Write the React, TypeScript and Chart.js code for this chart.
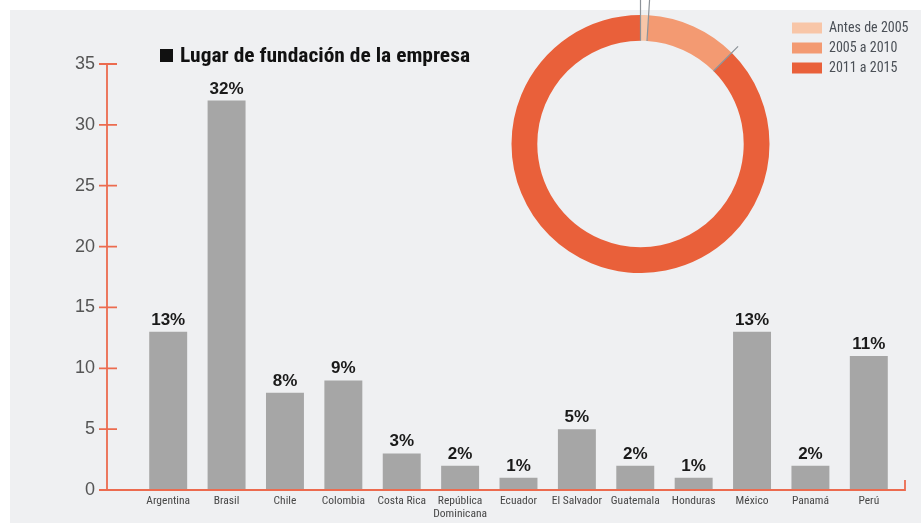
import { useEffect, useRef } from 'react';
import { Chart, registerables } from 'chart.js';

Chart.register(...registerables);

// ---- data ----
const countries: (string | string[])[] = [
  'Argentina', 'Brasil', 'Chile', 'Colombia', 'Costa Rica', ['República', 'Dominicana'],
  'Ecuador', 'El Salvador', 'Guatemala', 'Honduras', 'México', 'Panamá', 'Perú',
];
const companies = [13, 32, 8, 9, 3, 2, 1, 5, 2, 1, 13, 2, 11];
const yMin = 0;
const yMax = 35;
const yStep = 5;

const periods = ['Antes de 2005', '2005 a 2010', '2011 a 2015'];
const periodShares = [1, 11.5, 87.5];

const titleText = 'Lugar de fundación de la empresa';

// ---- styles ----
const COND = '"Roboto Condensed", "DejaVu Sans Condensed", "Liberation Sans", sans-serif';
const SANS = '"Liberation Sans", Arial, sans-serif';
const AXIS = '#ec6b4f';
const BAR = '#a6a6a6';
const periodColors = ['#f8c6a8', '#f39a72', '#e9603a'];

const axesPlugin = {
  id: 'customAxes',
  afterDatasetsDraw(chart: any) {
    const { ctx, chartArea } = chart;
    const y = chart.scales.y;
    const axisX = chartArea.left - 32;
    const y0 = y.getPixelForValue(yMin);
    const yTop = y.getPixelForValue(yMax);
    ctx.save();
    ctx.strokeStyle = AXIS;
    ctx.lineWidth = 1.8;
    ctx.beginPath();
    ctx.moveTo(axisX, yTop);
    ctx.lineTo(axisX, y0);
    y.ticks.forEach((t: any) => {
      const py = y.getPixelForValue(t.value);
      ctx.moveTo(axisX - 8, py);
      ctx.lineTo(t.value === yMin ? axisX : axisX + 10, py);
    });
    ctx.moveTo(axisX, y0);
    ctx.lineTo(chartArea.right + 7, y0);
    ctx.lineTo(chartArea.right + 7, y0 - 10);
    ctx.stroke();
    ctx.restore();
  },
};

const valueLabelPlugin = {
  id: 'valueLabels',
  afterDatasetsDraw(chart: any) {
    const { ctx } = chart;
    const meta = chart.getDatasetMeta(0);
    ctx.save();
    ctx.font = `bold 17px ${SANS}`;
    ctx.fillStyle = '#1a1a1a';
    ctx.textAlign = 'center';
    ctx.textBaseline = 'alphabetic';
    meta.data.forEach((bar: any, i: number) => {
      ctx.fillText(`${companies[i]}%`, bar.x, bar.y - 7);
    });
    ctx.restore();
  },
};

const titlePlugin = {
  id: 'customTitle',
  afterDraw(chart: any) {
    const { ctx } = chart;
    ctx.save();
    ctx.fillStyle = '#111';
    ctx.fillRect(160, 49, 13, 13);
    ctx.font = `bold 20px ${COND}`;
    ctx.textBaseline = 'alphabetic';
    ctx.textAlign = 'left';
    const w = ctx.measureText(titleText).width;
    const sx = Math.min(1.15, 290 / w);
    ctx.translate(180, 62);
    ctx.scale(sx, 1);
    ctx.fillText(titleText, 0, 0);
    ctx.restore();
  },
};

const leaderPlugin = {
  id: 'leaders',
  afterDatasetsDraw(chart: any) {
    const { ctx } = chart;
    const arcs = chart.getDatasetMeta(0).data;
    if (!arcs.length) return;
    const { x, y, innerRadius, outerRadius } = arcs[0];
    const lines: [number, number][] = [
      [arcs[0].startAngle, -1],
      [arcs[0].endAngle, -1],
      [arcs[1].endAngle, outerRadius + 9],
    ];
    ctx.save();
    ctx.strokeStyle = '#8d9399';
    ctx.lineWidth = 1.2;
    ctx.beginPath();
    lines.forEach(([a, end]) => {
      const r2 = end < 0 ? y / Math.max(0.2, -Math.sin(a)) : end;
      ctx.moveTo(x + Math.cos(a) * innerRadius, y + Math.sin(a) * innerRadius);
      ctx.lineTo(x + Math.cos(a) * r2, y + Math.sin(a) * r2);
    });
    ctx.stroke();
    ctx.restore();
  },
};

export default function App() {
  const barRef = useRef<HTMLCanvasElement>(null);
  const donutRef = useRef<HTMLCanvasElement>(null);

  useEffect(() => {
    const bar = new Chart(barRef.current!, {
      type: 'bar',
      data: {
        labels: countries as any,
        datasets: [
          {
            data: companies,
            backgroundColor: BAR,
            barPercentage: 0.65,
            categoryPercentage: 1,
          },
        ],
      },
      options: {
        responsive: false,
        animation: false,
        devicePixelRatio: 1,
        layout: { padding: { left: 0, top: 64, right: 23, bottom: 0 } },
        plugins: {
          legend: { display: false },
          tooltip: { enabled: false },
          title: { display: false },
        },
        scales: {
          x: {
            grid: { display: false, drawTicks: false },
            border: { display: false },
            ticks: {
              font: { family: COND, size: 11.5, lineHeight: 1.1 },
              color: '#474747',
              padding: 5,
              maxRotation: 0,
              autoSkip: false,
            },
            afterFit: (s: any) => {
              s.height = 33;
            },
          },
          y: {
            min: yMin,
            max: yMax,
            ticks: {
              stepSize: yStep,
              font: { family: SANS, size: 18 },
              color: '#555555',
              padding: 44,
            },
            grid: { display: false, drawTicks: false },
            border: { display: false },
            afterFit: (s: any) => {
              s.width = 139;
              s.paddingTop = 0;
              s.paddingBottom = 0;
            },
          },
        },
      },
      plugins: [axesPlugin, valueLabelPlugin, titlePlugin],
    });

    const donut = new Chart(donutRef.current!, {
      type: 'doughnut',
      data: {
        labels: periods,
        datasets: [
          {
            data: periodShares,
            backgroundColor: periodColors,
            borderWidth: 0,
            hoverOffset: 0,
            offset: 0,
          },
        ],
      },
      options: {
        responsive: false,
        animation: false,
        devicePixelRatio: 1,
        radius: 129,
        cutout: '80%',
        layout: { padding: { left: 0, top: 15, right: 0, bottom: 0 } },
        plugins: {
          tooltip: { enabled: false },
          legend: {
            position: 'right',
            align: 'start',
            maxWidth: 128,
            labels: {
              boxWidth: 30,
              boxHeight: 11,
              padding: 6,
              color: '#4b5057',
              font: { family: COND, size: 14 },
            },
          },
        },
      } as any,
      plugins: [leaderPlugin],
    });

    return () => {
      bar.destroy();
      donut.destroy();
    };
  }, []);

  return (
    <div
      style={{
        position: 'fixed',
        left: 0,
        top: 0,
        width: 921,
        height: 523,
        background: '#ffffff',
        overflow: 'hidden',
      }}
    >
      <div
        style={{
          position: 'absolute',
          left: 10,
          top: 10,
          width: 911,
          height: 513,
          background: '#eff0f2',
        }}
      />
      <canvas
        ref={barRef}
        width={921}
        height={523}
        style={{ position: 'absolute', left: 0, top: 0, width: 921, height: 523 }}
      />
      <canvas
        ref={donutRef}
        width={419}
        height={273}
        style={{ position: 'absolute', left: 495, top: 0, width: 419, height: 273 }}
      />
    </div>
  );
}
